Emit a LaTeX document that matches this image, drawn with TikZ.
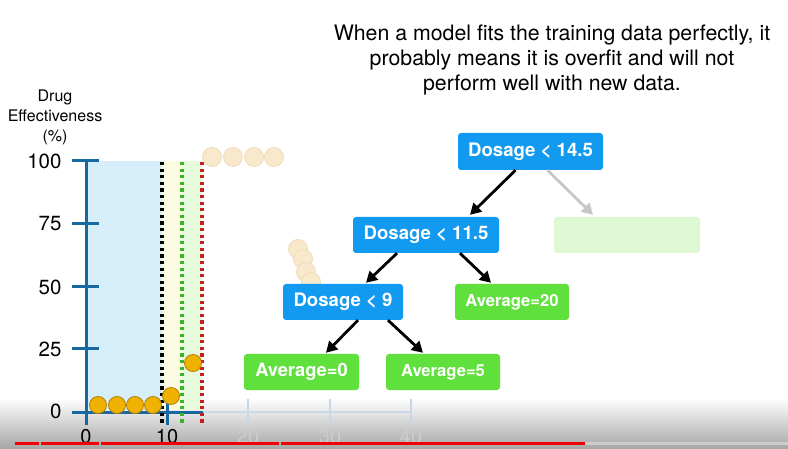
\documentclass[tikz,border=0pt]{standalone}
\usepackage{fontspec}
\setmainfont{TeX Gyre Heros}
\usetikzlibrary{arrows.meta,calc}
\definecolor{boxblue}{RGB}{18,154,240}
\definecolor{boxgreen}{RGB}{96,224,60}
\definecolor{fadegreen}{RGB}{222,248,212}
\definecolor{axisblue}{RGB}{24,104,160}
\definecolor{fadeaxis}{RGB}{200,216,230}
\definecolor{regblue}{RGB}{214,238,250}
\definecolor{regyellow}{RGB}{252,252,226}
\definecolor{reggreen}{RGB}{230,250,220}
\definecolor{ptfill}{RGB}{240,178,0}
\definecolor{ptdraw}{RGB}{176,128,0}
\definecolor{fadept}{RGB}{248,232,204}
\definecolor{fadeptdraw}{RGB}{240,220,186}
\definecolor{dotgreen}{RGB}{60,180,40}
\definecolor{dotred}{RGB}{200,30,30}
\definecolor{ytred}{RGB}{240,0,0}
\begin{document}
\begin{tikzpicture}[x=1pt,y=-1pt,
  treebox/.style={rounded corners=3pt, inner sep=0pt, text=white, font=\bfseries\fontsize{18.6}{22}\selectfont},
  splitbox/.style={treebox, fill=boxblue},
  leafbox/.style={treebox, fill=boxgreen, font=\bfseries\fontsize{16.6}{20}\selectfont},
  edge/.style={line width=2.8pt, -{Triangle[length=11pt,width=12pt]}},
  pt/.style={circle, inner sep=0pt, minimum size=17pt, fill=ptfill, draw=ptdraw, line width=0.8pt},
  fpt/.style={circle, inner sep=0pt, minimum size=19pt, fill=fadept, draw=fadeptdraw, line width=0.8pt},
  ticklab/.style={font=\fontsize{20.5}{24}\selectfont, anchor=east},
  xlab/.style={font=\fontsize{20}{24}\selectfont},
  axisline/.style={draw=axisblue, line width=3pt},
  fadeline/.style={draw=fadeaxis, line width=2.5pt},
  dotline/.style={line width=3.3pt, dash pattern=on 3.3pt off 3.3pt}
]
\useasboundingbox (0,0) rectangle (788,449);
\fill[white] (0,0) rectangle (788,449);
% bottom video band
\shade[top color=white, bottom color=black!35] (0,398) rectangle (788,449);

% title
\node[align=center, font=\fontsize{21.3}{25}\selectfont] (title) at (552,60)
  {When a model fits the training data perfectly, it\\probably means it is overfit and will not\\perform well with new data.};

% y-axis label
\node[align=center, font=\fontsize{16}{20}\selectfont] (ylabel) at (55,117) {Drug\\Effectiveness\\(\%)};

% shaded regions
\fill[regblue] (88,161) rectangle (162,410);
\fill[regyellow] (162,161) rectangle (182,410);
\fill[reggreen] (182,161) rectangle (202,410);

% faded x axis
\draw[fadeline] (203,412) -- (411,412);
\foreach \x in {248,330,411} \draw[fadeline] (\x,399) -- (\x,425);
\node[xlab, text=black!20] (x20) at (248,437) {20};
\node[xlab, text=black!20] (x30) at (330,437) {30};
\node[xlab, text=black!20] (x40) at (411,437) {40};

% axes
\draw[axisline] (86,161) -- (86,425);
\draw[axisline] (72,412) -- (203,412);
\draw[axisline] (167,402) -- (167,425);
\foreach \y in {161,224,287,349} \draw[axisline] (72,\y) -- (99,\y);
\node[ticklab] (t100) at (65,161) {100};
\node[ticklab] (t75) at (65,224) {75};
\node[ticklab] (t50) at (65,287) {50};
\node[ticklab] (t25) at (65,349) {25};
\node[ticklab] (t0) at (65,411) {0};
\node[xlab] (x0) at (86,437) {0};
\node[xlab] (x10) at (167,437) {10};

% dotted thresholds
\draw[dotline, black] (162,162) -- (162,425);
\draw[dotline, dotgreen] (182,162) -- (182,425);
\draw[dotline, dotred] (202,162) -- (202,425);

% faded points
\node[fpt] (f1) at (212,157) {};
\node[fpt] (f2) at (233,157) {};
\node[fpt] (f3) at (254,157) {};
\node[fpt] (f4) at (274,157) {};
\node[fpt] (f5) at (298,249) {};
\node[fpt] (f6) at (303,259) {};
\node[fpt] (f7) at (306,272) {};
\node[fpt] (f8) at (311,282) {};

% data points
\node[pt] (p1) at (98,405) {};
\node[pt] (p2) at (117,405) {};
\node[pt] (p3) at (135,405) {};
\node[pt] (p4) at (153,405) {};
\node[pt] (p5) at (171,396) {};
\node[pt] (p6) at (193,363) {};

% tree
\node[splitbox, minimum width=145pt, minimum height=37pt] (d145) at (530.5,151.5) {Dosage < 14.5};
\node[splitbox, minimum width=146pt, minimum height=36pt] (d115) at (426,235) {Dosage < 11.5};
\node[treebox, fill=fadegreen, minimum width=146pt, minimum height=36pt] (fade) at (627,235) {};
\node[splitbox, minimum width=120pt, minimum height=36pt] (d9) at (343,302) {Dosage < 9};
\node[leafbox, minimum width=114pt, minimum height=36pt] (a20) at (512,302) {Average=20};
\node[leafbox, minimum width=115pt, minimum height=36pt, font=\bfseries\fontsize{18.3}{22}\selectfont] (a0) at (301.5,372) {Average=0};
\node[leafbox, minimum width=114pt, minimum height=36pt] (a5) at (443,372) {Average=5};

\draw[edge] ([xshift=-15pt]d145.south) -- ([xshift=44pt,yshift=2pt]d115.north);
\draw[edge, draw=black!22, -{Triangle[length=11pt,width=12pt,fill=black!22]}] ([xshift=17pt]d145.south) -- ([xshift=-34pt,yshift=2pt]fade.north);
\draw[edge] ([xshift=-29pt]d115.south) -- ([xshift=23pt,yshift=1pt]d9.north);
\draw[edge] ([xshift=34pt]d115.south) -- ([xshift=-21pt,yshift=1pt]a20.north);
\draw[edge] ([xshift=15pt]d9.south) -- ([xshift=24.5pt,yshift=1pt]a0.north);
\draw[edge] ([xshift=45pt]d9.south) -- ([xshift=-20pt,yshift=1pt]a5.north);

% video progress bar
\draw[black!20, line width=3pt] (585,443) -- (788,443);
\draw[ytred, line width=3pt] (15,443) -- (39,443);
\draw[ytred, line width=3pt] (41,443) -- (99,443);
\draw[ytred, line width=3pt] (101,443) -- (279,443);
\draw[ytred, line width=3pt] (281,443) -- (585,443);
\end{tikzpicture}
\end{document}
